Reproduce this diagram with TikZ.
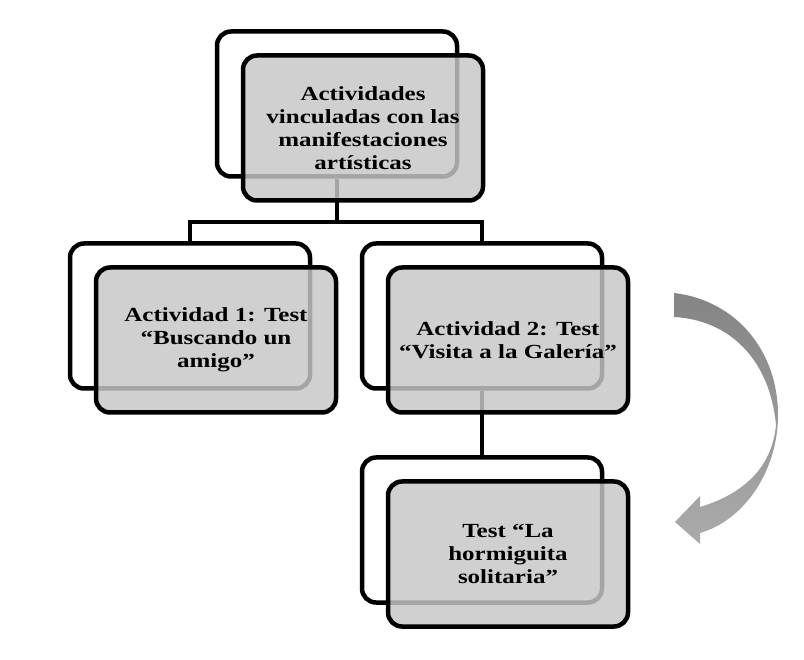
\documentclass[tikz,border=0pt]{standalone}
\usepackage{fontspec}
\setmainfont{Liberation Serif}[FakeStretch=1.25]
\usetikzlibrary{positioning}

\begin{document}
\begin{tikzpicture}[x=1pt,y=-1pt,
    backbox/.style={draw,line width=4.5pt,rounded corners=14pt,fill=white,
        minimum width=240pt,minimum height=145pt},
    frontbox/.style={draw,line width=4.5pt,rounded corners=14pt,fill=black!22,
        fill opacity=0.83,text opacity=1,minimum width=240pt,minimum height=145pt,
        align=center,font=\fontsize{20}{23}\selectfont\bfseries},
    link/.style={line width=4.5pt}]
    \useasboundingbox (0,0) rectangle (804,660);

    \node[backbox](topback)at(337,104){};
    \node[backbox](leftback)at(190,316){};
    \node[backbox](rightback)at(482,316){};
    \node[backbox](bottomback)at(482,530){};

    \coordinate(bus)at(337,222);
    \draw[link](topback.south)--(bus);
    \draw[link](leftback.north)|-(bus)-|(rightback.north);
    \draw[link](rightback.south)--(bottomback.north);

    \node[frontbox](topfront)at(363,128){Actividades\\vinculadas con las\\manifestaciones\\artísticas};
    \node[frontbox](leftfront)at(216,340){Actividad 1: Test\\“Buscando un\\amigo”};
    \node[frontbox](rightfront)at(508,340){Actividad 2: Test\\“Visita a la Galería”};
    \node[frontbox](bottomfront)at(508,554){Test “La\\hormiguita\\solitaria”};

    \shade[top color=black!48,bottom color=black!33]
        (674,293)..controls(735,300)and(778,350)..(778,415)
        ..controls(778,470)and(745,520)..(700,533)
        --(700,544)--(675,522)--(700,496)--(700,507)
        ..controls(740,495)and(772,470)..(776,425)
        ..controls(770,360)and(730,320)..(674,317)--cycle;
\end{tikzpicture}
\end{document}
